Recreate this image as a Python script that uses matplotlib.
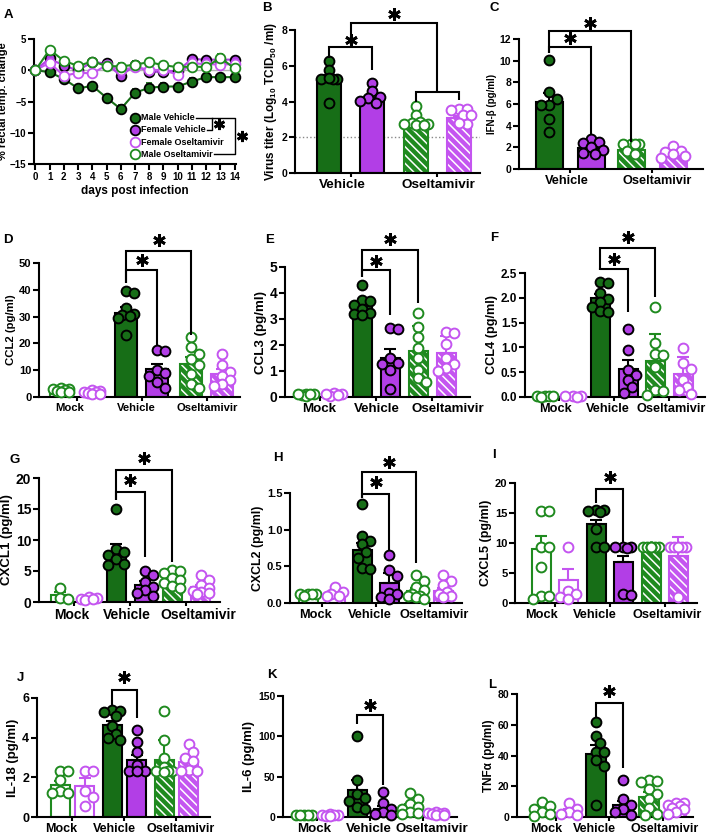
import numpy as np
import matplotlib
matplotlib.use('Agg')
import matplotlib.pyplot as plt

W, H = 707, 839
plt.rcParams['font.family'] = ['Liberation Sans', 'DejaVu Sans']
plt.rcParams['font.weight'] = 'bold'
plt.rcParams['axes.labelweight'] = 'bold'
plt.rcParams['hatch.linewidth'] = 1.1
plt.rcParams['mathtext.fontset'] = 'custom'
plt.rcParams['mathtext.rm'] = 'Liberation Sans:bold'
plt.rcParams['mathtext.it'] = 'Liberation Sans:bold'
plt.rcParams['mathtext.bf'] = 'Liberation Sans:bold'

# ---------------- data: panel A ----------------
days = list(range(15))
male_vehicle = [0, -0.3, -1.4, -2.9, -2.5, -4.4, -6.2, -3.6, -2.8, -2.6, -2.6, -1.8, -1.1, -1.1, -1.1]
male_vehicle_err = [0, 0.4, 0.6, 0.4, 0.4, 0.4, 0.6, 0.6, 0.7, 0.5, 0.3, 0.5, 0.3, 0.3, 0.4]
female_vehicle = [0, 1.9, 0.7, 0.0, 1.3, 1.1, -0.9, 0.8, -0.3, -0.2, -0.1, 1.8, 1.7, 1.7, 1.7]
female_vehicle_err = [0, 0.4, 0.5, 0.4, 0.3, 0.3, 0.5, 0.6, 0.5, 0.4, 0.3, 0.4, 0.3, 0.4, 0.3]
female_oselt = [0, 1.2, -0.9, -0.4, -0.5, 0.8, 0.0, 0.5, 0.1, 0.0, -0.7, 1.1, 1.0, 0.9, 1.0]
female_oselt_err = [0, 0.4, 0.7, 0.4, 0.3, 0.3, 0.4, 0.5, 0.5, 0.4, 0.3, 0.4, 0.3, 0.5, 0.3]
male_oselt = [0, 3.3, 1.5, 0.7, 1.4, 0.7, 0.6, 0.9, 1.3, 0.8, 0.5, 0.6, 0.5, 2.0, 0.3]
male_oselt_err = [0, 0.4, 0.5, 0.4, 0.3, 0.3, 0.5, 0.6, 0.5, 0.5, 0.3, 0.4, 0.3, 0.6, 0.4]
legend_labels = ['Male Vehicle', 'Female Vehicle', 'Female Oseltamivir', 'Male Oseltamivir']

groups2 = ['Vehicle', 'Oseltamivir']
groups3 = ['Mock', 'Vehicle', 'Oseltamivir']
kinds2 = ['veh', 'osel']
kinds3 = ['mock', 'veh', 'osel']

# bar order: [male, female] for each group
titer_mean = [5.2, 4.2, 2.8, 3.05]
titer_err = [0.3, 0.2, 0.15, 0.15]
titer_pts = [[6.25, 5.75, 5.25, 5.25, 5.25, 5.3, 3.9], [5.05, 4.6, 4.25, 4.2, 4.05, 3.9],
             [3.75, 3.25, 2.85, 2.8, 2.75, 2.75, 2.7, 2.7], [3.6, 3.6, 3.55, 3.25, 3.25, 2.75, 2.8]]
titer_limit = 2.0

ifnb_mean = [6.2, 1.9, 1.75, 1.3]
ifnb_err = [0.8, 0.2, 0.15, 0.15]
ifnb_pts = [[10.1, 7.1, 6.5, 5.9, 5.9, 4.6, 3.4], [2.8, 2.5, 2.4, 2.0, 1.8, 1.5, 1.4],
            [2.35, 2.3, 2.3, 2.3, 1.7, 1.4], [2.1, 1.7, 1.6, 1.4, 1.2, 1.0]]

ccl2_mean = [2.5, 1.7, 31.5, 10.3, 12.3, 8.7]
ccl2_err = [0.3, 0.3, 2.0, 1.9, 2.5, 1.7]
ccl2_pts = [[3.5, 3.0, 2.8, 2.5, 2.2, 2.0, 1.8], [2.5, 2.2, 2.0, 1.8, 1.5, 1.2, 1.0],
            [39.6, 38.8, 33.2, 31.0, 30.5, 30.2, 29.5, 23.0], [17.5, 17.0, 10.0, 9.0, 7.8, 5.6, 3.2],
            [22.4, 18.5, 16.0, 14.0, 12.0, 8.5, 5.0, 3.5], [16.2, 12.0, 9.5, 8.0, 6.5, 5.0, 4.0]]

ccl3_mean = [0.08, 0.1, 3.5, 1.5, 1.75, 1.68]
ccl3_err = [0.01, 0.01, 0.15, 0.33, 1.0, 0.65]
ccl3_pts = [[0.1, 0.1, 0.08, 0.05, 0.1, 0.1], [0.15, 0.1, 0.05, 0.1, 0.08],
            [4.3, 3.75, 3.7, 3.55, 3.4, 3.25, 3.2, 3.15], [2.65, 2.6, 1.5, 1.3, 1.25, 1.05, 0.3],
            [3.25, 2.7, 2.3, 1.9, 1.5, 1.05, 0.73, 0.56], [2.5, 2.45, 2.05, 1.5, 1.25, 1.1, 1.0]]

ccl4_mean = [0.02, 0.02, 2.0, 0.57, 0.72, 0.47]
ccl4_err = [0.005, 0.005, 0.08, 0.17, 0.56, 0.33]
ccl4_pts = [[0.02, 0.03, 0.02, 0.01, 0.03], [0.02, 0.03, 0.02, 0.01],
            [2.32, 2.3, 2.1, 1.98, 1.92, 1.82, 1.74, 1.72], [1.38, 0.95, 0.55, 0.45, 0.35, 0.2, 0.08],
            [1.82, 1.08, 0.87, 0.85, 0.6, 0.15, 0.12, 0.05], [0.98, 0.68, 0.57, 0.35, 0.21, 0.15, 0.06]]

cxcl1_mean = [1.1, 0.55, 8.0, 2.8, 3.3, 2.4]
cxcl1_err = [0.5, 0.1, 1.4, 0.6, 0.4, 0.35]
cxcl1_pts = [[2.2, 0.6, 0.5], [0.8, 0.6, 0.5, 0.4, 0.5],
             [15.0, 8.5, 8.0, 7.6, 7.0, 6.2, 5.9], [5.0, 4.4, 3.3, 2.4, 2.0, 1.4, 0.9],
             [5.2, 5.0, 4.6, 3.8, 3.5, 3.0, 2.6, 2.2], [4.3, 3.5, 2.8, 2.2, 1.8, 1.6, 1.4, 1.3]]

cxcl2_mean = [0.11, 0.13, 0.72, 0.27, 0.16, 0.17]
cxcl2_err = [0.01, 0.02, 0.1, 0.14, 0.04, 0.04]
cxcl2_pts = [[0.12, 0.12, 0.12, 0.12, 0.1], [0.22, 0.15, 0.12, 0.1, 0.1],
             [1.35, 0.92, 0.84, 0.8, 0.7, 0.62, 0.48, 0.46], [0.66, 0.45, 0.37, 0.14, 0.12, 0.08, 0.05],
             [0.38, 0.3, 0.22, 0.18, 0.12, 0.1, 0.1, 0.08, 0.06], [0.38, 0.3, 0.25, 0.15, 0.12, 0.1, 0.08]]

cxcl5_mean = [9.0, 3.8, 13.1, 6.9, 9.4, 7.8]
cxcl5_err = [2.2, 1.8, 0.8, 1.0, 0.1, 3.2]
cxcl5_pts = [[15.4, 15.4, 9.4, 9.4, 6.0, 1.1, 1.1, 0.6], [9.3, 2.0, 1.5, 1.0, 0.6],
             [15.5, 15.5, 15.4, 15.2, 12.4, 9.4, 9.3], [9.4, 9.3, 9.3, 9.2, 1.5, 1.3],
             [9.4, 9.4, 9.4, 9.4, 9.4, 9.4, 9.4, 9.4], [9.4, 9.4, 9.4, 9.4, 9.4, 9.4, 1.0]]

il18_mean = [1.62, 1.54, 4.65, 2.85, 2.88, 2.79]
il18_err = [0.2, 0.42, 0.2, 0.3, 1.0, 0.3]
il18_pts = [[2.3, 2.3, 1.85, 1.3, 1.2, 1.2], [2.3, 2.3, 1.3, 1.0, 0.55],
            [5.38, 5.35, 5.3, 5.1, 4.6, 4.2, 4.0, 3.9], [4.4, 3.8, 3.3, 2.6, 2.3, 2.3, 2.3],
            [5.35, 3.9, 3.0, 2.5, 2.3, 2.3, 2.3, 2.25], [3.7, 3.3, 3.0, 2.8, 2.35, 2.3, 2.3]]

il6_mean = [2.5, 2.3, 34, 10, 13, 4.3]
il6_err = [0.3, 0.4, 12, 4, 3, 0.5]
il6_pts = [[3, 3, 2.5, 2, 2], [4, 3, 3, 2, 1.5, 1],
           [100, 46, 28, 23, 20, 13, 10], [31, 17, 10, 6, 4, 3],
           [29.6, 22, 16, 12, 10, 6, 5, 4], [6, 5, 5, 4, 4, 3, 3]]

tnfa_mean = [4.5, 3.5, 41, 7.6, 13, 6.5]
tnfa_err = [1.5, 1.5, 6, 3, 3, 1]
tnfa_pts = [[9.5, 7.0, 5.5, 3.5, 2.0, 0.5], [9.0, 5.0, 3.0, 2.0, 1.0],
            [62, 53, 48, 42.5, 42, 37, 33, 7.6], [24, 12, 8, 5, 3, 1],
            [24, 23.5, 23, 18, 15, 12, 6, 2, 1], [9, 9, 8, 7, 6, 5, 3, 2]]

# ---------------- styling ----------------
GREEN = '#176e17'
PURPLE = '#b23ee6'
OGREEN = '#1f8a1f'
OPURPLE = '#c455f0'
LW = 1.5

fig = plt.figure(figsize=(W / 100, H / 100), dpi=100)


def add_axes(l, r, t, b):
    return fig.add_axes([l / W, 1 - b / H, (r - l) / W, (b - t) / H])


def style_axes(ax, tick_fs):
    for s in ['top', 'right']:
        ax.spines[s].set_visible(False)
    for s in ['left', 'bottom']:
        ax.spines[s].set_linewidth(LW)
    ax.tick_params(width=LW, length=4, labelsize=tick_fs, pad=1.5)


def swarm(vals, ppu, d, maxoff):
    ys = np.asarray(vals, float) * ppu
    order = np.argsort(-ys, kind='stable')
    placed = []
    offs = np.zeros(len(ys))
    step = d / 2.0
    cands = [0.0]
    k = 1
    while k * step <= maxoff + 1e-9:
        cands += [k * step, -k * step]
        k += 1
    for idx in order:
        y = ys[idx]
        best, bestd = 0.0, -1.0
        for c in cands:
            md = min([np.hypot(c - px, y - py) for px, py in placed] or [1e9])
            if md >= d:
                best = c
                break
            if md > bestd:
                best, bestd = c, md
        placed.append((best, y))
        offs[idx] = best
    return offs


def star(ax, x, y, ms=9):
    ax.plot([x], [y], marker=(6, 2, 0), ms=ms, mew=2.0, color='k', clip_on=False, zorder=6)


def bracket(ax, x1, x2, ytop, y1, y2, sy):
    ax.plot([x1, x1, x2, x2], [y1, ytop, ytop, y2], color='k', lw=LW, clip_on=False,
            solid_joinstyle='miter', solid_capstyle='butt', zorder=5)
    if sy is not None:
        star(ax, (x1 + x2) / 2, sy)


def bar_panel(geom, labx, means, errs, pts, groups, kinds, ylim, yticks, ylabel, fs, fmt=None):
    l, r, t, b, first, S, G, bw = geom
    tick_fs, cat_fs, lab_fs = fs
    ax = add_axes(l, r, t, b)
    style_axes(ax, tick_fs)
    ax.set_xlim(l, r)
    ax.set_ylim(*ylim)
    ppu = (b - t) / (ylim[1] - ylim[0])
    xs = [first + (i // 2) * G + (i % 2) * S for i in range(len(means))]
    for i, (x, m, e, p) in enumerate(zip(xs, means, errs, pts)):
        kind = kinds[i // 2]
        col = [GREEN, PURPLE][i % 2]
        ocol = [OGREEN, OPURPLE][i % 2]
        if kind == 'veh':
            ax.bar(x, m, bw, color=col, edgecolor='k', lw=LW, zorder=2)
            ecol, pface, pedge = 'k', col, 'k'
        elif kind == 'osel':
            ax.bar(x, m, bw, color=ocol, edgecolor='white', lw=0, hatch='\\\\\\\\', zorder=2)
            ax.bar(x, m, bw, color='none', edgecolor=ocol, lw=LW, zorder=2)
            ecol, pface, pedge = ocol, 'white', ocol
        else:
            ax.bar(x, m, bw, color='white', edgecolor=ocol, lw=LW, zorder=2)
            ecol, pface, pedge = ocol, 'white', ocol
        ax.errorbar([x], [m], yerr=[[0], [e]], fmt='none', ecolor=ecol, elinewidth=LW,
                    capsize=4, capthick=LW, zorder=3)
        offs = swarm(p, ppu, 8.0, bw / 2.0)
        ax.scatter(x + offs, p, s=50, facecolor=pface, edgecolor=pedge, linewidths=1.4,
                   zorder=4, clip_on=False)
    centers = [(xs[2 * g] + xs[2 * g + 1]) / 2 for g in range(len(groups))]
    ax.set_xticks(centers)
    ax.set_xticklabels([])
    ax.tick_params(axis='x', length=3)
    for cx, g in zip(labx, groups):
        ax.text(cx, -0.045 * (ylim[1] - ylim[0]) * (130.0 / (b - t)), g, ha='center', va='top',
                fontsize=cat_fs, fontweight='bold', clip_on=False)
    ax.set_yticks(yticks)
    if fmt:
        ax.set_yticklabels([fmt.format(v) for v in yticks])
    ax.set_ylabel(ylabel, fontsize=lab_fs, labelpad=2)
    return ax, xs


def letter(x, y, s, size=9.5):
    fig.text(x / W, 1 - y / H, s, fontsize=size, fontweight='bold', ha='left', va='center')


# ---------------- Panel A ----------------
axA = add_axes(34, 236, 39, 164)
style_axes(axA, 7)
axA.axhline(0, color='#b5b5b5', lw=1.0, zorder=0)
seriesA = [
    (male_vehicle, male_vehicle_err, GREEN, GREEN, 'k'),
    (female_vehicle, female_vehicle_err, PURPLE, PURPLE, 'k'),
    (female_oselt, female_oselt_err, OPURPLE, 'white', OPURPLE),
    (male_oselt, male_oselt_err, OGREEN, 'white', OGREEN),
]
for vals, err, c, mf, me in seriesA:
    axA.errorbar(days, vals, yerr=err, color=c, lw=1.5, elinewidth=1.0, capsize=2.5,
                 marker='o', ms=7, mfc=mf, mec=me, mew=1.3, zorder=3, clip_on=False)
axA.set_xlim(-0.1, 14.1)
axA.set_ylim(-15, 5)
axA.set_xticks(days)
axA.set_yticks([-15, -10, -5, 0, 5])
axA.tick_params(axis='x', pad=2)
axA.set_xlabel('days post infection', fontsize=8.5, labelpad=2)
axA.set_ylabel('% rectal temp. change', fontsize=8, labelpad=1)
leg_y0, leg_dy = -7.6, -1.95
txts = []
for i, (lab, (vals, err, c, mf, me)) in enumerate(zip(legend_labels, seriesA)):
    yy = leg_y0 + i * leg_dy
    axA.plot([7.0], [yy], marker='o', ms=7, mfc=mf, mec=me, mew=1.3, zorder=4)
    txts.append(axA.text(7.45, yy, lab, fontsize=6.5, fontweight='bold', va='center', ha='left'))
fig.canvas.draw()
inv = axA.transData.inverted()
ends = [inv.transform((t.get_window_extent().x1, 0))[0] for t in txts]
yL = [leg_y0 + i * leg_dy for i in range(4)]
axA.plot([ends[0] + 0.05, 14.0, 14.0, ends[3] + 0.05], [yL[0], yL[0], yL[3], yL[3]],
         color='k', lw=1.0, clip_on=False, zorder=5)
axA.plot([ends[1] + 0.05, 12.4, 12.4], [yL[1], yL[1], yL[0]], color='k', lw=1.0,
         clip_on=False, zorder=5)
star(axA, 12.9, (yL[0] + yL[1]) / 2, ms=8)
star(axA, 14.55, (yL[0] + yL[3]) / 2, ms=8)
letter(4, 15, 'A')

# ---------------- Panel B ----------------
axB, xsB = bar_panel((295, 480, 30, 173, 329, 43, 87, 24), [342, 438], titer_mean, titer_err, titer_pts,
                     groups2, kinds2, (0, 8), [0, 2, 4, 6, 8],
                     r'Virus titer (Log$_{\mathrm{10}}$ TCID$_{\mathrm{50}}$ /ml)', (7.5, 9.7, 8.5))
axB.axhline(titer_limit, color='#888888', ls=':', lw=1.0, zorder=1)
bracket(axB, xsB[0], xsB[1], 7.03, 6.42, 5.75, 7.45)
bracket(axB, xsB[2], xsB[3], 4.54, 3.98, 4.07, None)
gv = (xsB[0] + xsB[1]) / 2
go = (xsB[2] + xsB[3]) / 2
bracket(axB, gv, go, 8.4, 7.03, 4.54, 8.9)
letter(262, 8, 'B')

# ---------------- Panel C ----------------
axC, xsC = bar_panel((519, 703, 39, 169, 549, 42, 82, 27), [567, 657], ifnb_mean, ifnb_err, ifnb_pts,
                     groups2, kinds2, (0, 12), [0, 2, 4, 6, 8, 10, 12],
                     'IFN-β (pg/ml)', (7.5, 9.2, 7))
bracket(axC, xsC[0], xsC[1], 11.3, 10.7, 3.1, 12.06)
bracket(axC, xsC[0], xsC[2], 12.7, 10.7, 2.5, 13.45)
letter(490, 8, 'C')

# ---------------- Row 2 ----------------
axD, xsD = bar_panel((39, 240, 263, 397, 61, 31, 65, 22), [70, 136, 207], ccl2_mean, ccl2_err, ccl2_pts,
                     groups3, kinds3, (0, 50), [0, 10, 20, 30, 40, 50], 'CCL2 (pg/ml)', (8, 8.1, 8.2))
bracket(axD, xsD[2], xsD[3], 47.3, 42.5, 19.3, 51.0)
bracket(axD, xsD[2], xsD[4], 54.5, 42.5, 23.0, 58.5)
letter(3, 240, 'D')

axE, xsE = bar_panel((285, 470, 267, 397, 306, 28, 56, 19), [319, 377, 448], ccl3_mean, ccl3_err, ccl3_pts,
                     groups3, kinds3, (0, 5), [0, 1, 2, 3, 4, 5], 'CCL3 (pg/ml)', (10, 9.6, 9.6))
bracket(axE, xsE[2], xsE[3], 4.87, 4.62, 3.15, 5.25)
bracket(axE, xsE[2], xsE[4], 5.64, 4.62, 3.6, 6.08)
letter(265, 240, 'E')

axF, xsF = bar_panel((525, 705, 273, 397, 545, 28, 55, 19), [555, 608, 671], ccl4_mean, ccl4_err, ccl4_pts,
                     groups3, kinds3, (0, 2.5), [0, 0.5, 1.0, 1.5, 2.0, 2.5], 'CCL4 (pg/ml)',
                     (8.5, 9.2, 9.2), fmt='{:.1f}')
bracket(axF, xsF[2], xsF[3], 2.59, 2.57, 1.72, 2.79)
bracket(axF, xsF[2], xsF[4], 3.0, 2.57, 2.02, 3.22)
letter(490, 238, 'F')

# ---------------- Row 3 ----------------
axG, xsG = bar_panel((39, 220, 478, 602, 60, 28.5, 56, 19), [72, 127, 198], cxcl1_mean, cxcl1_err, cxcl1_pts,
                     groups3, kinds3, (0, 20), [0, 5, 10, 15, 20], 'CXCL1 (pg/ml)', (10, 10, 9.5))
bracket(axG, xsG[2], xsG[3], 17.8, 16.5, 7.3, 19.7)
bracket(axG, xsG[2], xsG[4], 21.35, 16.5, 6.5, 23.2)
letter(10, 460, 'G')

axH, xsH = bar_panel((290, 462, 493, 603, 308, 27, 54, 19), [316, 370, 434], cxcl2_mean, cxcl2_err, cxcl2_pts,
                     groups3, kinds3, (0, 1.5), [0, 0.5, 1.0, 1.5], 'CXCL2 (pg/ml)',
                     (8, 9.2, 8.9), fmt='{:.1f}')
bracket(axH, xsH[2], xsH[3], 1.49, 1.43, 0.72, 1.65)
bracket(axH, xsH[2], xsH[4], 1.78, 1.43, 0.54, 1.92)
letter(273, 458, 'H')

axI, xsI = bar_panel((515, 697, 483, 603, 541, 27, 55, 19), [541, 595, 667], cxcl5_mean, cxcl5_err, cxcl5_pts,
                     groups3, kinds3, (0, 20), [0, 5, 10, 15, 20], 'CXCL5 (pg/ml)', (8, 9.2, 9))
bracket(axI, xsI[2], xsI[3], 19.0, 16.6, 10.0, 21.0)
letter(492, 455, 'I')

# ---------------- Row 4 ----------------
axJ, xsJ = bar_panel((37, 210, 698, 817, 60, 24.5, 52, 19), [61, 114, 181], il18_mean, il18_err, il18_pts,
                     groups3, kinds3, (0, 6), [0, 2, 4, 6], 'IL-18 (pg/ml)', (9, 9, 9.5))
bracket(axJ, xsJ[2], xsJ[3], 6.39, 5.64, 4.97, 7.06)
letter(17, 678, 'J')

axK, xsK = bar_panel((283, 457, 696, 817, 304, 26, 53, 19), [314, 369, 432], il6_mean, il6_err, il6_pts,
                     groups3, kinds3, (0, 150), [0, 50, 100, 150], 'IL-6 (pg/ml)', (7.5, 9.6, 9.5))
bracket(axK, xsK[2], xsK[3], 126, 115, 40, 139)
letter(267, 675, 'K')

axL, xsL = bar_panel((517, 693, 694, 817, 542, 27, 53.5, 20), [546, 594, 665], tnfa_mean, tnfa_err, tnfa_pts,
                     groups3, kinds3, (0, 80), [0, 20, 40, 60, 80], 'TNFα (pg/ml)', (7.5, 9, 8.5))
bracket(axL, xsL[2], xsL[3], 74, 65, 31.6, 81.7)
letter(488, 685, 'L')

fig.savefig('out.png', dpi=100)
